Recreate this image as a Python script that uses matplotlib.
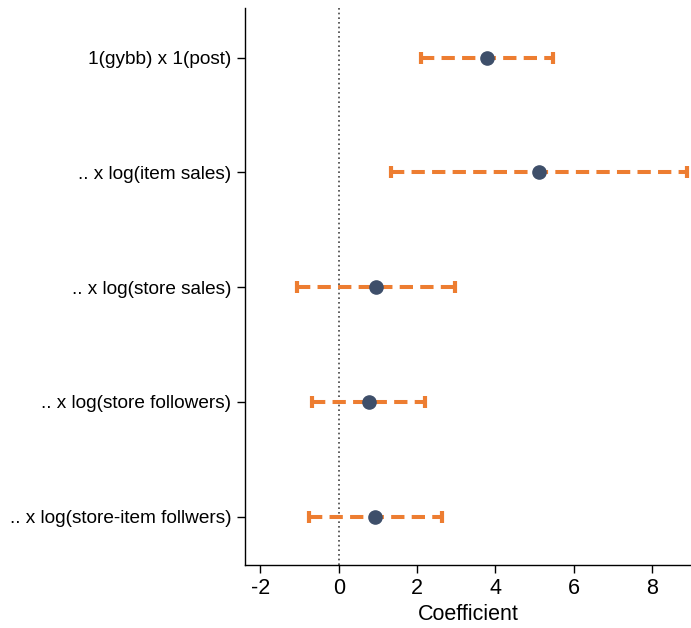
import matplotlib
matplotlib.use("Agg")
import matplotlib.pyplot as plt

plt.rcParams['font.family'] = ['Liberation Sans', 'DejaVu Sans']
plt.rcParams['axes.unicode_minus'] = False

terms = ["1(gybb) x 1(post)", ".. x log(item sales)", ".. x log(store sales)",
         ".. x log(store followers)", ".. x log(store-item follwers)"]
coef = [3.79, 5.12, 0.96, 0.77, 0.93]
ci_low = [2.10, 1.34, -1.07, -0.67, -0.77]
ci_high = [5.48, 8.90, 2.97, 2.21, 2.63]

orange = "#ED7D31"
navy = "#3E4F6A"

fig = plt.figure(figsize=(6.91, 6.28), dpi=100)
ax = fig.add_axes([0.3546, 0.1003, 0.6454, 0.8867])

ypos = list(range(1, len(terms) + 1))

ax.axvline(0, color="#444444", linestyle=(0, (1, 1.8)), linewidth=1.2, zorder=1)

for y, c, lo, hi in zip(ypos, coef, ci_low, ci_high):
    ax.plot([lo, hi], [y, y], color=orange, linewidth=2.9,
            linestyle=(0, (3.3, 1.8)), solid_capstyle="butt", zorder=2)
    ax.plot([lo, hi], [y, y], linestyle="none", marker="|", markersize=9,
            markeredgewidth=3, color=orange, zorder=2)
    ax.plot([c], [y], marker="o", markersize=9.5, color=navy,
            markeredgecolor=navy, linestyle="none", zorder=3)

ax.set_xlim(-2.39, 8.99)
ax.set_ylim(5.42, 0.57)
ax.set_xticks([-2, 0, 2, 4, 6, 8])
ax.set_yticks(ypos)
ax.set_yticklabels(terms, fontsize=13.7)
ax.tick_params(axis="x", labelsize=15.5, length=6, width=1, pad=3)
ax.tick_params(axis="y", length=6, width=1, pad=4)
ax.set_xlabel("Coefficient", fontsize=15.5, labelpad=4)

for side in ("top", "right"):
    ax.spines[side].set_visible(False)
for side in ("left", "bottom"):
    ax.spines[side].set_linewidth(1.0)

fig.savefig("out.png", dpi=100)
